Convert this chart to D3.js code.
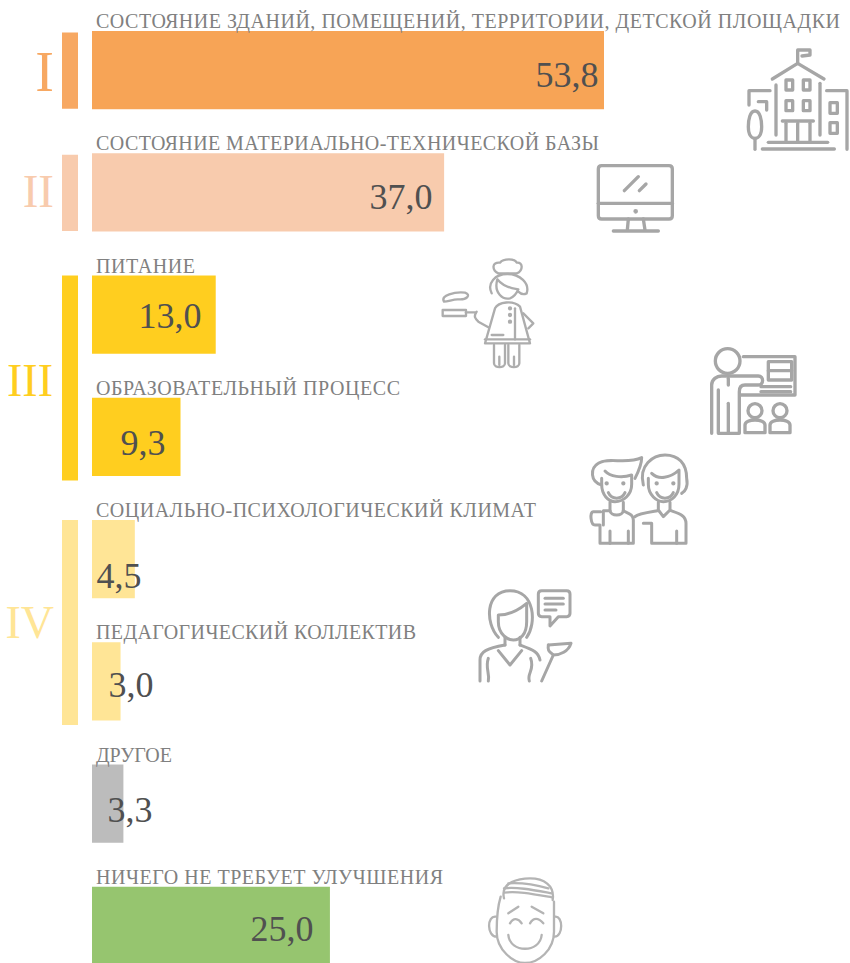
<!DOCTYPE html>
<html><head><meta charset="utf-8">
<script src="https://cdn.jsdelivr.net/npm/d3@7/dist/d3.min.js"></script>
<style>html,body{margin:0;padding:0;background:#fff;overflow:hidden}svg{display:block}</style>
</head><body><svg id="c" width="850" height="963"></svg>
<script>
const categories = ["СОСТОЯНИЕ ЗДАНИЙ, ПОМЕЩЕНИЙ, ТЕРРИТОРИИ, ДЕТСКОЙ ПЛОЩАДКИ","СОСТОЯНИЕ МАТЕРИАЛЬНО-ТЕХНИЧЕСКОЙ БАЗЫ","ПИТАНИЕ","ОБРАЗОВАТЕЛЬНЫЙ ПРОЦЕСС","СОЦИАЛЬНО-ПСИХОЛОГИЧЕСКИЙ КЛИМАТ","ПЕДАГОГИЧЕСКИЙ КОЛЛЕКТИВ","ДРУГОЕ","НИЧЕГО НЕ ТРЕБУЕТ УЛУЧШЕНИЯ"];
const values = [53.8,37.0,13.0,9.3,4.5,3.0,3.3,25.0];
const barColors = ["#f7a456","#f8cbad","#ffce1f","#ffce1f","#ffe596","#ffe596","#bcbcbc","#96c56f"];
const groupNames = ["I","II","III","IV"];
const groupFirst = [0,1,2,4];
const groupLast = [0,1,3,5];
const groupColors = ["#f7a862","#f8cbad","#ffce1f","#ffe596"];

// layout tuning, kept apart from the data
const labelWidths = [744,503,99,304,440,320,76,347];
const valueCenter = [567,401,170,143,119,131,130,282];
const valueBase = [87,209,328,455,588,697,822,941];
const romanRight = [54,54,53,54];
const romanBase = [91,207,396,638];
const romanSize = [56,47,46,46];

const svg = d3.select("#c");
const serif = "'Liberation Serif','DejaVu Serif',serif";
const x = d3.scaleLinear().domain([0,53.8]).range([92,604]);
const y = d3.scaleBand().domain(categories).range([31,965]).paddingInner(0.36).paddingOuter(0);
const bw = y.bandwidth();

svg.append("g").selectAll("rect").data(values).join("rect")
  .attr("x",x(0)).attr("y",(d,i)=>y(categories[i]))
  .attr("width",d=>x(d)-x(0)).attr("height",bw)
  .attr("fill",(d,i)=>barColors[i]);

svg.append("g").selectAll("text").data(categories).join("text")
  .attr("x",96).attr("y",d=>y(d)-3).text(d=>d)
  .attr("textLength",(d,i)=>labelWidths[i]).attr("lengthAdjust","spacing")
  .attr("font-family",serif).attr("font-size",20).attr("fill","#808080");

svg.append("g").selectAll("text").data(values).join("text")
  .attr("x",(d,i)=>valueCenter[i]).attr("y",(d,i)=>valueBase[i]).attr("text-anchor","middle")
  .text(d=>d3.format(".1f")(d).replace(".",","))
  .attr("font-family",serif).attr("font-size",36).attr("fill","#505050");

svg.append("g").selectAll("rect").data(groupNames).join("rect")
  .attr("x",62).attr("width",16)
  .attr("y",(d,i)=>y(categories[groupFirst[i]])+(groupFirst[i]===groupLast[i]?1.5:0))
  .attr("height",(d,i)=>{const a=y(categories[groupFirst[i]])+(groupFirst[i]===groupLast[i]?1.5:0);
    const b=y(categories[groupLast[i]])+bw+(groupFirst[i]===groupLast[i]?-0.5:4.5);return b-a;})
  .attr("fill",(d,i)=>groupColors[i]);

svg.append("g").selectAll("text").data(groupNames).join("text")
  .attr("x",(d,i)=>romanRight[i]).attr("y",(d,i)=>romanBase[i]).attr("text-anchor","end").text(d=>d)
  .attr("font-family",serif).attr("font-size",(d,i)=>romanSize[i]).attr("fill",(d,i)=>groupColors[i]);

// decorative pictograms, sketched in 3x local units
const defs = svg.append("defs");
defs.append("filter").attr("id","soft").append("feGaussianBlur").attr("stdDeviation",1.6);
function icon(ox,oy,sw,col,paths){
  const g = svg.append("g").attr("transform",`translate(${ox},${oy}) scale(${1/3})`)
    .attr("fill","none").attr("stroke",col).attr("stroke-width",sw)
    .attr("stroke-linecap","round").attr("stroke-linejoin","round").attr("filter","url(#soft)");
  g.selectAll("path").data(paths).join("path").attr("d",d=>d);
  return g;
}
const rr=(x,y,w,h)=>`M${x},${y}h${w}v${h}h${-w}z`;
const dot=(x,y,r)=>`M${x-r},${y}a${r},${r} 0 1,0 ${2*r},0a${r},${r} 0 1,0 ${-2*r},0`;

icon(700,30,10,"#a6a6a6",[
 "M293,100V60H330V75L306,78","M217,147L293,100L372,147","M228,165V315","M360,160V315",
 rr(258,150,20,30),rr(310,150,20,30),rr(258,212,20,30),rr(310,212,20,30),
 "M247,273H340","M258,280V335","M330,280V335","M293,280V335","M205,337H383","M187,357H403",
 "M210,182H147V225","M175,215H200V240",
 "M165,243C150,243 145,270 145,290C145,315 155,325 165,325C175,325 185,315 185,290C185,270 180,243 165,243Z","M165,325V358",
 "M380,182H441V358",rr(390,218,22,32),rr(390,278,22,32)
]);
icon(580,150,10,"#a6a6a6",[
 "M65,47H267Q277,47 277,57V197Q277,207 267,207H65Q55,207 55,197V57Q55,47 65,47Z","M55,160H277",
 "M133,122L175,80","M178,122L198,102",dot(167,184,2),"M145,207L142,240","M190,207L195,240","M100,243H235"
]);
icon(420,250,7,"#adadad",[
 "M235,70C215,60 215,35 240,38C250,25 285,25 290,38C310,35 310,62 290,70Z",
 "M215,130C200,100 225,72 262,72C300,72 330,100 320,130C310,135 300,130 295,125",
 "M232,88C220,130 250,150 270,145C285,140 292,125 295,118C270,115 245,105 232,88Z",
 rr(68,180,70,18),"M138,187H165","M72,155C60,135 105,125 135,128C155,135 140,150 115,148C100,147 85,155 72,155Z",
 "M170,185C160,200 165,205 175,215L205,232","M195,280L225,175C235,155 280,150 300,170L330,280Z","M195,268H330",
 dot(270,175,3),dot(270,195,3),dot(270,215,3),"M285,175V268","M215,255H250","M310,190L340,220L325,235",
 "M222,285V340C222,355 255,355 255,340V285","M265,285V340C265,355 298,355 298,340V285","M238,320V345","M282,320V345"
]);
icon(700,340,10,"#a6a6a6",[
 dot(83,63,37),"M130,50H285V165H120",rr(205,65,70,55),"M205,92H275","M183,140H272","M183,155H272",
 "M35,280V135C35,118 50,108 65,108H175C192,108 192,135 175,135H135C122,135 118,145 118,155V280H55V150",
 "M85,190V280","M85,115V135",
 dot(165,212,21),"M135,278V255C135,235 195,235 195,255V278Z",dot(240,212,21),"M210,278V255C210,235 270,235 270,255V278Z"
]);
icon(580,445,9,"#a6a6a6",[
 "M65,120C30,110 30,70 55,55C85,35 140,60 185,38C185,60 175,80 165,100",
 "M65,100V118C65,150 85,170 105,170C130,170 155,150 155,118V90C125,100 90,95 75,78",
 dot(80,115,2),dot(130,115,2),"M85,143C95,165 125,165 135,143",
 "M90,172V195C90,215 130,215 130,195V172","M62,200H40C28,200 32,240 45,240H60V295H160V225C160,205 140,205 130,197",
 "M90,197H70V240","M90,295V258","M145,295V258",
 "M190,120C175,60 220,30 255,30C295,30 320,55 320,100C325,125 315,140 305,145",
 "M205,100V118C205,150 230,170 250,170C275,170 297,150 297,118V75C270,100 235,105 215,85",
 dot(230,115,2),dot(280,115,2),"M230,143C240,165 270,165 280,143",
 "M235,172V195L250,215L270,195V172","M190,235H215V295H318V235C318,210 295,205 272,197","M232,197C215,200 175,205 165,215","M290,295V258"
]);
icon(470,580,9,"#a6a6a6",[
 "M85,172C45,130 45,32 120,32C195,32 200,130 170,172",
 "M85,105V125C85,165 115,180 130,180C150,180 170,165 170,125V70C140,95 110,105 85,105Z",
 "M105,172V195","M150,172V195","M85,212L120,255L155,212",
 "M30,303V240C30,215 50,205 105,195","M150,195C190,210 205,215 210,240",
 "M55,235C45,265 60,280 55,303","M182,235C195,270 170,280 178,303",
 "M235,195L303,190C295,215 270,225 250,225L215,303","M235,195C232,215 240,215 250,225",
 "M215,32H290Q300,32 300,42V100Q300,110 290,110H265L240,138V110H215Q205,110 205,100V42Q205,32 215,32Z",
 "M225,55H280","M225,72H280","M225,90H258"
]);
icon(480,870,7,"#b4b4b4",[
 "M72,85C60,35 120,25 150,25C190,25 225,45 218,90",
 "M72,55C110,50 160,60 215,70","M72,68C110,62 160,72 215,82","M85,40C120,38 170,45 205,55",
 "M62,80C50,120 50,160 50,185C50,240 100,279 135,279C175,279 222,240 222,185V95",
 "M48,140C20,135 20,200 50,200","M224,140C250,135 250,200 224,200",
 "M90,160C100,142 115,145 125,160","M150,160C160,142 175,142 190,160","M85,130L115,110","M155,110L190,130",
 "M85,195C90,250 180,250 185,195"
]);
</script></body></html>
